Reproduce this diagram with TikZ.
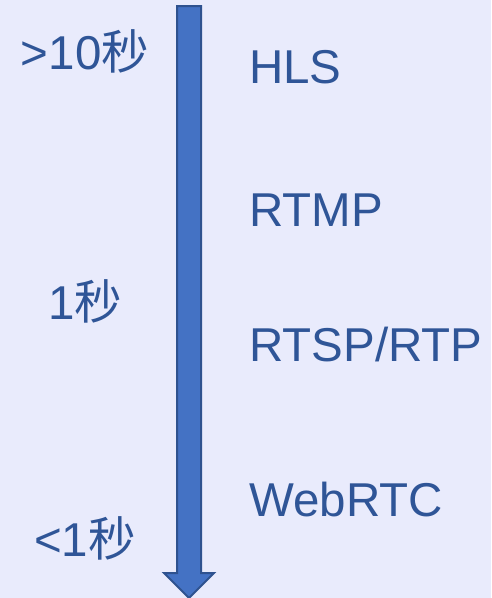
\documentclass[tikz,border=0pt]{standalone}
\usepackage{fontspec}
\setmainfont{Liberation Sans}
\newfontfamily\cjk{Noto Sans CJK SC}
\definecolor{bgc}{HTML}{E9EBFC}
\definecolor{txtc}{HTML}{2F5597}
\definecolor{arrfill}{HTML}{4472C4}
\definecolor{arrline}{HTML}{2F528F}
\begin{document}
\begin{tikzpicture}[x=1pt,y=-1pt,
  lbl/.style={inner sep=0pt,text=txtc,font=\fontsize{47.5}{57}\selectfont},
  leftlbl/.style={lbl,anchor=base},
  rightlbl/.style={lbl,anchor=base west}]
\fill[bgc] (0,0) rectangle (491,598);
\useasboundingbox (0,0) rectangle (491,598);
\begin{scope}
\clip (0,0) rectangle (491,598);
\draw[fill=arrfill,draw=arrline,line width=2pt,line join=miter]
  (177,6) -- (201,6) -- (201,573) -- (214,573) -- (189,598) -- (164,573) -- (177,573) -- cycle;
\end{scope}
\node[leftlbl] (t1) at (85,69) {>10{\cjk 秒}};
\node[leftlbl] (t2) at (85,319) {1{\cjk 秒}};
\node[leftlbl] (t3) at (85,556) {<1{\cjk 秒}};
\node[rightlbl] (p1) at (249,83) {HLS};
\node[rightlbl] (p2) at (249,226) {RTMP};
\node[rightlbl] (p3) at (249,361) {RTSP/RTP};
\node[rightlbl] (p4) at (249,516) {WebRTC};
\end{tikzpicture}
\end{document}
